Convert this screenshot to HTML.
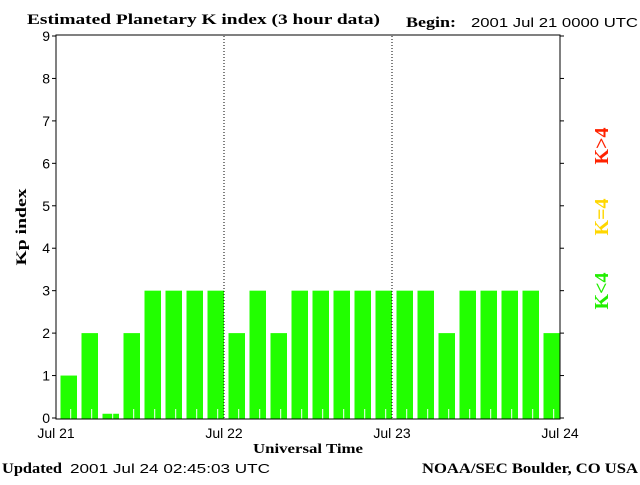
<!DOCTYPE html>
<html><head><meta charset="utf-8"><style>
body{margin:0;background:#fff;width:640px;height:480px;overflow:hidden}
svg text{font-family:"Liberation Sans",sans-serif;}
.serif{font-family:"Liberation Serif",serif;font-weight:bold}
</style></head><body>
<svg id="c" width="640" height="480">
<text class="serif" x="27" y="24" font-size="15" textLength="353" lengthAdjust="spacingAndGlyphs">Estimated Planetary K index (3 hour data)</text>
<text class="serif" x="406" y="27" font-size="15" textLength="50" lengthAdjust="spacingAndGlyphs">Begin:</text>
<text x="471" y="27" font-size="13" textLength="167" lengthAdjust="spacingAndGlyphs">2001 Jul 21 0000 UTC</text>
<text class="serif" x="26" y="227" font-size="15" textLength="77" lengthAdjust="spacingAndGlyphs" transform="rotate(-90 26 227)" text-anchor="middle">Kp index</text>
<text class="serif" x="308" y="453" font-size="14" textLength="110" lengthAdjust="spacingAndGlyphs" text-anchor="middle">Universal Time</text>
<text class="serif" x="2" y="473" font-size="15" textLength="60" lengthAdjust="spacingAndGlyphs">Updated</text>
<text x="70" y="473" font-size="13" textLength="200" lengthAdjust="spacingAndGlyphs">2001 Jul 24 02:45:03 UTC</text>
<text class="serif" x="422" y="473" font-size="15" textLength="216" lengthAdjust="spacingAndGlyphs">NOAA/SEC Boulder, CO USA</text>
<text class="serif" x="608" y="291" font-size="20" fill="#22ee00" transform="rotate(-90 608 291)" text-anchor="middle">K&lt;4</text>
<text class="serif" x="608" y="217" font-size="20" fill="#ffd700" transform="rotate(-90 608 217)" text-anchor="middle">K=4</text>
<text class="serif" x="608" y="146" font-size="20" fill="#ff2200" transform="rotate(-90 608 146)" text-anchor="middle">K&gt;4</text>
<g id="marks"></g>
<rect x="56" y="35" width="504" height="384" fill="none" stroke="#000" stroke-width="1"/>
</svg>
<script>
const values=[1,2,0.1,2,3,3,3,3,2,3,2,3,3,3,3,3,3,3,2,3,3,3,3,2];
const yTicks=[0,1,2,3,4,5,6,7,8,9];
const dayLabels=["Jul 21","Jul 22","Jul 23","Jul 24"];
const L=56,R=560,T=36,B=418;
const NS="http://www.w3.org/2000/svg";
const g=document.getElementById('marks');
const x=i=>L+(R-L)*i/values.length;
const y=v=>B-(B-T)*v/9;
function mk(t,a){const e=document.createElementNS(NS,t);for(const k in a)e.setAttribute(k,a[k]);g.appendChild(e);return e;}
const bw=(R-L)/values.length;
values.forEach((v,i)=>{
 const col=v>4?'#ff2200':(v==4?'#ffd700':'#22ff00');
 const r=mk('rect',{x:x(i)+4.5,y:y(v),width:bw-4.5,height:B-y(v)+1,fill:col});
 
 
 const t=mk('line',{x1:x(i)+bw*0.7,x2:x(i)+bw*0.7,y1:B-9,y2:B+1,stroke:'#fff'});
 
 
});
yTicks.forEach(v=>{
 const tx=mk('text',{x:50,y:y(v)+5,'font-size':14,'text-anchor':'end'});tx.textContent=v;
 
 
 const a=mk('line',{x1:L-4,x2:L,y1:y(v),y2:y(v),stroke:'#000'});
 
 
 const b=mk('line',{x1:R,x2:R+4,y1:y(v),y2:y(v),stroke:'#000'});
 
 
});
dayLabels.forEach((d,i)=>{
 const xx=L+(R-L)*i/(dayLabels.length-1);
 const t=mk('text',{x:xx,y:438,'font-size':14,'text-anchor':'middle'});t.textContent=d;
 
 
 if(i>0&&i<dayLabels.length-1){
  const l=mk('line',{x1:xx,x2:xx,y1:T,y2:B,stroke:'#000','stroke-dasharray':'1,2'});
  
  
 }
});
</script>
</body></html>
